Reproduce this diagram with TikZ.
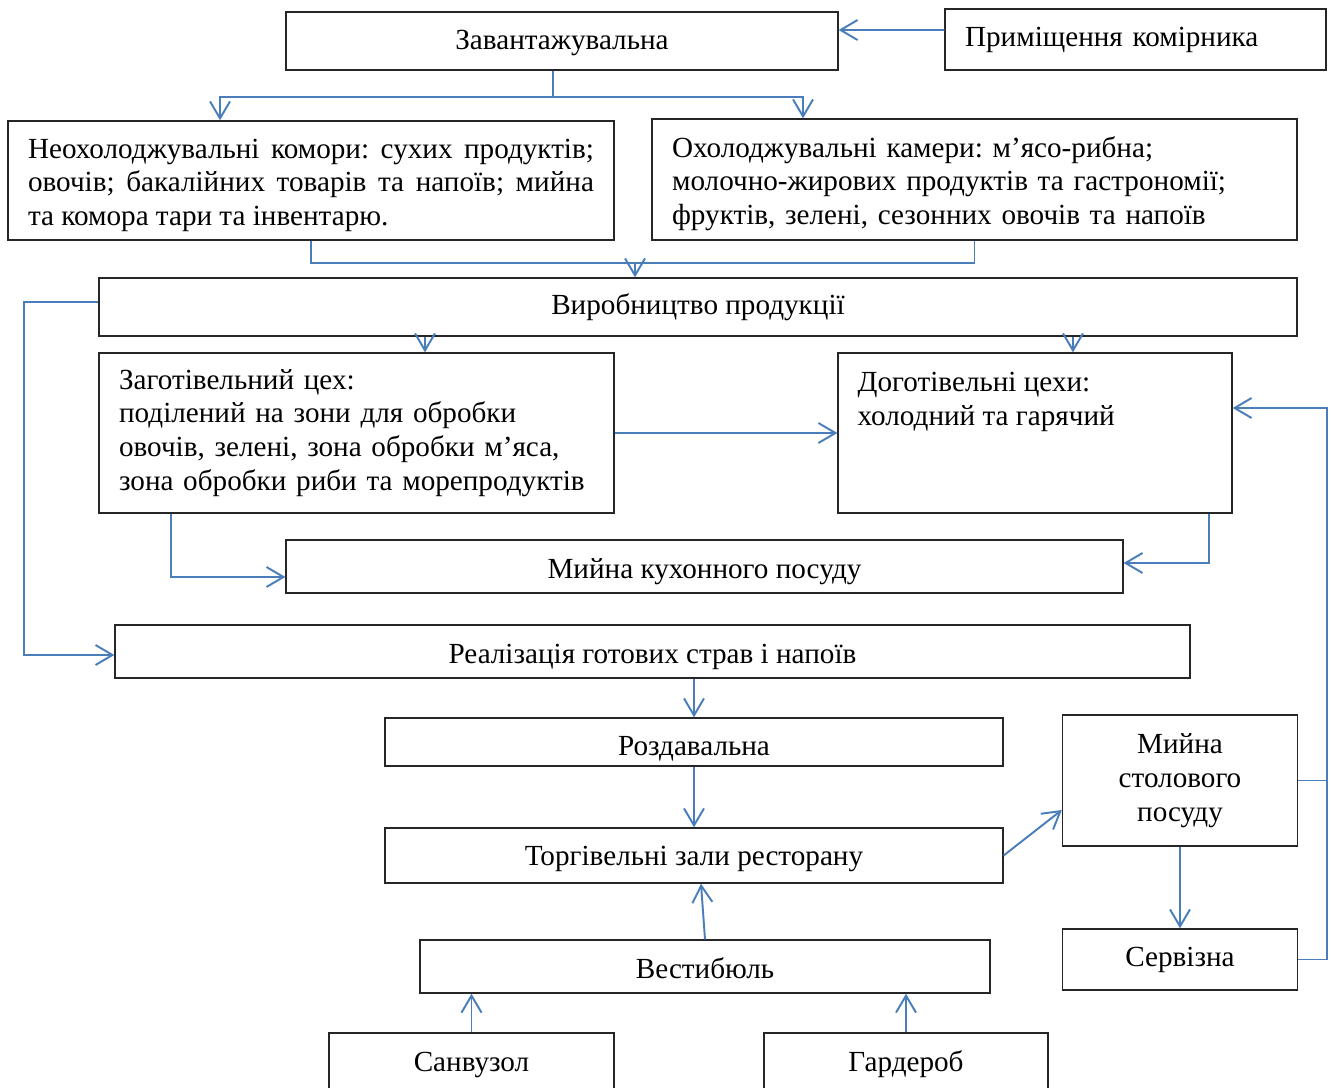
\documentclass[tikz,border=0pt]{standalone}
\usepackage{fontspec}
\setmainfont{Liberation Serif}
\frenchspacing
\usetikzlibrary{arrows.meta}
\definecolor{lnkblue}{RGB}{74,126,187}
\tikzset{
        box/.style = {draw=black!85, line width=0.8pt, inner sep=0pt,
            font=\fontsize{16.6}{19.2}\selectfont},
        box_c/.style = {box, align=center},
        box_s/.style = {box, text height=13.6pt, text depth=0pt},
        box_l/.style = {box, align=left, inner xsep=0.4cm, text width=#1},
        box_m/.style = {box_l=#1, execute at begin node={\rule{0pt}{1em}}},
        box_j/.style = {box_m=#1, align=justify},
        txt_l/.style = {align=left, inner xsep=0.4cm, inner ysep=0.39cm,
            font=\fontsize{16.6}{19.2}\selectfont},
        lnk/.style = {draw=lnkblue, line width=1.1pt}
    }

\begin{document}
\begin{tikzpicture}[x=0.02cm, y=-0.02cm, ->,
        >={Straight Barb[length=0.34cm, width=0.4cm]}]
    \useasboundingbox (0,0) rectangle (1332,1088);
    % storage
    \node [box_s, text height=10.2pt, minimum width=11.04cm, minimum height=1.16cm] (zav) at (562,41) {Завантажувальна};
    \node [box_l=6.82cm, minimum height=1.22cm] (prym) at (1135.5,39.5) {Приміщення комірника};
    \node [box_j=11.32cm, minimum height=2.38cm] (neokh) at (311,180.5)
        {Неохолоджувальні комори: сухих продуктів;\linebreak овочів; бакалійних товарів та напоїв; мийна\linebreak та комора тари та інвентарю.};
    \node [box_m=12.1cm, minimum height=2.42cm] (okh) at (974.5,179.5)
        {Охолоджувальні камери: м’ясо-рибна;\\молочно-жирових продуктів та гастрономії;\\фруктів, зелені, сезонних овочів та напоїв};
    % production
    \node [box_s, text height=9.1pt, minimum width=23.96cm, minimum height=1.16cm] (vyrob) at (698,307) {Виробництво продукції};
    \node [box_l=9.5cm, minimum height=3.2cm] (zag) at (356.5,433)
        {Заготівельний цех:\\поділений на зони для обробки\\овочів, зелені, зона обробки м’яса,\\зона обробки риби та морепродуктів};
    \node [box, minimum width=7.88cm, minimum height=3.2cm,
        label={[txt_l, anchor=north west]north west:{Доготівельні цехи:\\холодний та гарячий}}] (dogot) at (1035,433) {};
    \node [box_s, minimum width=16.74cm, minimum height=1.06cm] (kukh) at (704.5,566.5) {Мийна кухонного посуду};
    % service
    \node [box_s, minimum width=21.5cm, minimum height=1.06cm] (real) at (652.5,651.5) {Реалізація готових страв і напоїв};
    \node [box_s, text height=15.9pt, minimum width=12.36cm, minimum height=0.96cm] (rozd) at (694,742) {Роздавальна};
    \node [box_s, text height=11.3pt, minimum width=12.36cm, minimum height=1.1cm] (torg) at (694,855.5) {Торгівельні зали ресторану};
    \node [box_s, minimum width=11.4cm, minimum height=1.06cm] (vest) at (705,966.5) {Вестибюль};
    \node [box_s, text height=10.2pt, minimum width=5.7cm, minimum height=1.2cm] (sanv) at (471.5,1063) {Санвузол};
    \node [box_s, text height=10.2pt, minimum width=5.68cm, minimum height=1.2cm] (gard) at (906,1063) {Гардероб};
    \node [box_c, minimum width=4.7cm, minimum height=2.62cm] (stol) at (1180,780.5) {Мийна\\столового\\посуду};
    \node [box_s, text height=8pt, minimum width=4.7cm, minimum height=1.22cm] (serv) at (1180,959.5) {Сервізна};

    \draw [lnk] ([yshift=0.19cm]prym.west) -- ([yshift=0.22cm]zav.east);
    \draw [lnk, -] ([xshift=-0.18cm]zav.south) -- ++(0,26) coordinate (zf);
    \draw [lnk] (zf) -| ([xshift=-1.82cm]neokh.north);
    \draw [lnk] (zf) -| ([xshift=-3.43cm]okh.north);
    \draw [lnk, -] (neokh.south) -- ++(0,22) coordinate (nm) -| (okh.south);
    \draw [lnk] ([xshift=-1.26cm]vyrob.north |- nm) -- ([xshift=-1.26cm]vyrob.north);
    \draw [lnk] ([yshift=0.1cm]vyrob.west) -- ++(-74,0) |- ([yshift=-0.07cm]real.west);
    \draw [lnk] ([xshift=1.37cm]zag.north |- vyrob.south) -- ([xshift=1.37cm]zag.north);
    \draw [lnk] ([xshift=0.76cm]dogot.north |- vyrob.south) -- ([xshift=0.76cm]dogot.north);
    \draw [lnk] (zag.east) -- (dogot.west);
    \draw [lnk] ([xshift=-3.71cm]zag.south) |- ([yshift=-0.21cm]kukh.west);
    \draw [lnk] ([xshift=3.48cm]dogot.south) |- ([yshift=0.07cm]kukh.east);
    \draw [lnk] (rozd.north |- real.south) -- (rozd.north);
    \draw [lnk] (rozd.south) -- (torg.north);
    \draw [lnk] (torg.east) -- ([yshift=-0.59cm]stol.west);
    \draw [lnk] (stol.south) -- (serv.north);
    \draw [lnk] (serv.east) -- ++(29,0) |- ([yshift=0.5cm]dogot.east);
    \draw [lnk, -] (stol.east) -- ++(29,0);
    \draw [lnk] (vest.north) -- ([xshift=0.14cm]torg.south);
    \draw [lnk] (sanv.north) -- (sanv.north |- vest.south);
    \draw [lnk] (gard.north) -- (gard.north |- vest.south);
\end{tikzpicture}
\end{document}
